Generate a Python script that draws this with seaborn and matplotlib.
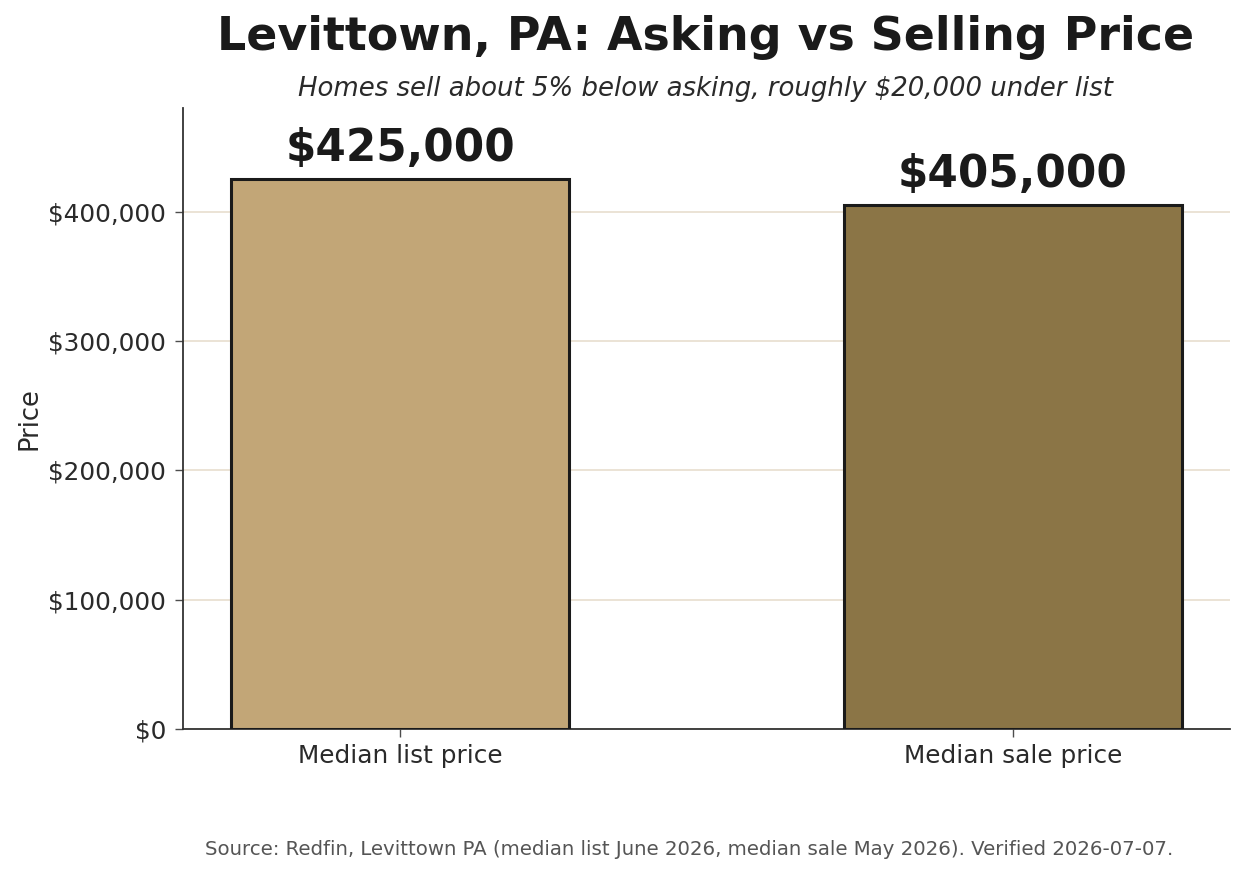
import seaborn as sns
import matplotlib.pyplot as plt
import pandas as pd
from matplotlib.ticker import FuncFormatter

# Data
categories = ["Median list price", "Median sale price"]
prices = [425000, 405000]
bar_colors = ["#C2A677", "#8B7546"]

df = pd.DataFrame({"Measure": categories, "Price": prices})

sns.set_theme(style="white")
plt.rcParams['font.family'] = ['DejaVu Sans']

fig = plt.figure(figsize=(12.44, 8.74), dpi=100)
ax = fig.add_axes([183/1244, 1 - 729/874, (1230-183)/1244, (729-108)/874])

sns.barplot(data=df, x="Measure", y="Price", hue="Measure", palette=bar_colors,
            width=0.55, edgecolor="#1a1a1a", linewidth=2.2, saturation=1,
            legend=False, ax=ax, zorder=3)

ax.set_xlim(-0.354, 1.354)
ax.set_ylim(0, max(prices) * 1.13)
ax.yaxis.set_major_formatter(FuncFormatter(lambda v, p: f"${v:,.0f}"))
ax.set_yticks([0, 100000, 200000, 300000, 400000])

ax.grid(axis="y", color="#E9E1D2", linewidth=1.3, zorder=0)
ax.set_axisbelow(True)

for axis in ['bottom', 'left']:
    ax.spines[axis].set_linewidth(1.3)
    ax.spines[axis].set_color('0.2')
ax.spines['top'].set_visible(False)
ax.spines['right'].set_visible(False)

ax.tick_params(axis="both", bottom=True, left=True, length=6, width=1,
               color="0.3", labelsize=17.8, labelcolor="#2a2a2a", pad=6)
ax.tick_params(axis="x", pad=4.5)
ax.set_xlabel(None)
ax.set_ylabel("Price", fontsize=18.5, color="#2a2a2a", labelpad=4)

for i, v in enumerate(prices):
    ax.text(i, v + 7000, f"${v:,.0f}", ha="center", va="bottom",
            fontsize=31.4, fontweight="bold", color="#1a1a1a")

fig.text(706/1244, 1 - 37.5/874, "Levittown, PA: Asking vs Selling Price",
         ha="center", va="center", fontsize=33, fontweight="bold", color="#1a1a1a")
fig.text(706/1244, 1 - 89/874, "Homes sell about 5% below asking, roughly $20,000 under list",
         ha="center", va="center", fontsize=18.7, style="italic", color="#2a2a2a")
fig.text(689/1244, 1 - 849.5/874,
         "Source: Redfin, Levittown PA (median list June 2026, median sale May 2026). Verified 2026-07-07.",
         ha="center", va="center", fontsize=14.2, color="#555555")

plt.savefig("out.png", dpi=100)
